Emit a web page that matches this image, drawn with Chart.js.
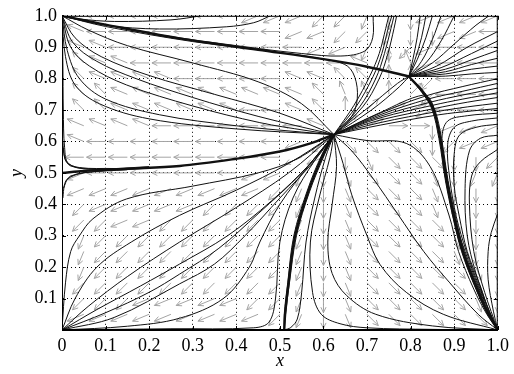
<!DOCTYPE html>
<html>
<head>
<meta charset="utf-8">
<script src="https://cdn.jsdelivr.net/npm/chart.js@4/dist/chart.umd.min.js"></script>
<style>
  html, body { margin: 0; padding: 0; background: #fff; }
  #wrap { width: 514px; height: 374px; }
</style>
</head>
<body>
<div id="wrap"><canvas id="phase" width="514" height="374"></canvas></div>
<script>
const tickValues = [0, 0.1, 0.2, 0.3, 0.4, 0.5, 0.6, 0.7, 0.8, 0.9, 1.0];

// quiver grid, directions (hex: 0 = east, 4 = north, 8 = west, c = south)
const arrowXs = [0.05, 0.1, 0.15, 0.2, 0.25, 0.3, 0.35, 0.4, 0.45, 0.5, 0.55, 0.6, 0.65, 0.7, 0.75, 0.8, 0.85, 0.9, 0.95, 1.0];
const arrowYs = [1.0, 0.95, 0.9, 0.85, 0.8, 0.75, 0.7, 0.65, 0.6, 0.55, 0.5, 0.45, 0.4, 0.35, 0.3, 0.25, 0.2, 0.15, 0.1, 0.05];
const arrowDirs = [
  '88888888999aabcc9999',
  '788888888899aabcc998',
  '7788888888899bca9888',
  '67788888888887459888',
  '6777788888776644a888',
  '6677777777765542a888',
  '66777777887642119888',
  '7777888888872100c999',
  '78888888889aeeeeca99',
  '888888888899cdeeecca',
  '9888888899bcdeeedcbb',
  '999999999abcdeeedccc',
  'a99999aaaabcdeeedccc',
  'aa99aaaaaabcdeeeedcc',
  'baaaaaaaaabcdeeeedcc',
  'baaaaaaaaabcdeeeedcc',
  'baaaaaaaaabcdeeeeedc',
  'aaaaaaaaaabcdeeeeedc',
  'aaa99999aabcdeeeeedc',
  '999999999abcdeeeeeed'
];

// trajectories ending at the corner (0,1)
const toTopLeft = [
  [[0, 1], [0.04, 0.99], [0.12, 0.982], [0.25, 0.987], [0.32, 1]],
  [[0, 1], [0.1, 0.97], [0.224, 0.958], [0.377, 0.965], [0.44, 0.978], [0.478, 1]],
  [[0, 1], [0.2, 0.945], [0.4, 0.905], [0.55, 0.88], [0.64, 0.872], [0.695, 0.888], [0.713, 0.93], [0.714, 1]],
  [[0, 1], [0.1, 0.966], [0.3, 0.918], [0.49, 0.885], [0.6, 0.862], [0.655, 0.84], [0.675, 0.79], [0.676, 0.72], [0.66, 0.67], [0.624, 0.622]],
  [[0, 1], [0.06, 0.955], [0.15, 0.905], [0.3, 0.85], [0.45, 0.79], [0.55, 0.72], [0.624, 0.622]],
  [[0, 1], [0.03, 0.93], [0.09, 0.87], [0.2, 0.81], [0.35, 0.75], [0.5, 0.69], [0.624, 0.622]],
  [[0, 1], [0.025, 0.915], [0.08, 0.855], [0.17, 0.8], [0.3, 0.74], [0.45, 0.68], [0.624, 0.622]],
  [[0, 1], [0.02, 0.9], [0.063, 0.84], [0.148, 0.78], [0.3, 0.713], [0.454, 0.66], [0.56, 0.635], [0.624, 0.622]],
  [[0, 1], [0.012, 0.89], [0.04, 0.8], [0.1, 0.735], [0.224, 0.685], [0.4, 0.65], [0.55, 0.63], [0.624, 0.622]],
  [[0, 1], [0.008, 0.87], [0.03, 0.78], [0.086, 0.72], [0.2, 0.672], [0.4, 0.64], [0.624, 0.622]],
  [[0, 1], [0.002, 0.85], [0.003, 0.7], [0.006, 0.58], [0.015, 0.53], [0.06, 0.512], [0.15, 0.514]]
];

// heavy lines where many trajectories pile up
const thickLines = [
  [[0, 1], [0.1, 0.972], [0.27, 0.928], [0.45, 0.892], [0.6, 0.862], [0.7, 0.838], [0.796, 0.807]],
  [[0, 0.5], [0.05, 0.506], [0.15, 0.513], [0.27, 0.522], [0.4, 0.545], [0.5, 0.568], [0.57, 0.594], [0.624, 0.622]],
  [[0.624, 0.622], [0.6, 0.56], [0.565, 0.44], [0.535, 0.3], [0.52, 0.15], [0.512, 0.05], [0.51, 0]],
  [[0.796, 0.807], [0.829, 0.756], [0.852, 0.703], [0.868, 0.609], [0.883, 0.475], [0.9, 0.36], [0.92, 0.25], [0.95, 0.14], [0.975, 0.06], [1, 0]]
];

// trajectories around the left edge point (0,0.5)
const nearLeftEdge = [
  [[0.002, 0.6], [0.006, 0.55], [0.02, 0.522], [0.08, 0.512], [0.2, 0.52]],
  [[0.002, 0.42], [0.006, 0.46], [0.02, 0.49], [0.08, 0.505], [0.2, 0.515]],
  [[0.003, 0.58], [0.01, 0.535], [0.04, 0.517], [0.12, 0.514]],
  [[0.003, 0.45], [0.012, 0.48], [0.05, 0.5], [0.15, 0.51]]
];

// trajectories ending at the corner (0,0)
const toBottomLeft = [
  [[0, 0], [0.008, 0.15], [0.02, 0.25], [0.04, 0.3], [0.071, 0.354], [0.148, 0.417], [0.3, 0.458], [0.45, 0.5], [0.54, 0.545], [0.624, 0.622]],
  [[0, 0], [0.03, 0.1], [0.08, 0.2], [0.159, 0.28], [0.27, 0.365], [0.4, 0.445], [0.52, 0.53], [0.624, 0.622]],
  [[0, 0], [0.06, 0.075], [0.15, 0.17], [0.27, 0.28], [0.4, 0.39], [0.52, 0.5], [0.624, 0.622]],
  [[0, 0], [0.08, 0.065], [0.18, 0.14], [0.27, 0.21], [0.38, 0.3], [0.48, 0.41], [0.57, 0.53], [0.624, 0.622]],
  [[0, 0], [0.1, 0.055], [0.2, 0.12], [0.27, 0.178], [0.36, 0.26], [0.45, 0.37], [0.55, 0.5], [0.624, 0.622]],
  [[0, 0], [0.12, 0.04], [0.27, 0.147], [0.35, 0.21], [0.42, 0.3], [0.5, 0.42], [0.58, 0.54], [0.624, 0.622]],
  [[0, 0], [0.15, 0.012], [0.27, 0.0375], [0.37, 0.1], [0.43, 0.2], [0.454, 0.28], [0.5, 0.4], [0.57, 0.53], [0.624, 0.622]],
  [[0, 0], [0.25, 0.004], [0.44, 0.007], [0.475, 0.025], [0.49, 0.1], [0.5, 0.28], [0.53, 0.42], [0.58, 0.54], [0.624, 0.622]]
];

// trajectories ending at (0.51,0)
const toBottomMid = [
  [[0.624, 0.622], [0.603, 0.56], [0.568, 0.44], [0.538, 0.3], [0.522, 0.15], [0.513, 0.05], [0.51, 0]],
  [[0.624, 0.622], [0.597, 0.56], [0.562, 0.44], [0.532, 0.3], [0.518, 0.15], [0.51, 0.05], [0.51, 0]],
  [[0.624, 0.622], [0.605, 0.55], [0.58, 0.42], [0.56, 0.28], [0.55, 0.12], [0.54, 0.035], [0.525, 0.008], [0.51, 0]]
];

// trajectories ending at the corner (1,0)
const toBottomRight = [
  [[0.624, 0.622], [0.615, 0.55], [0.59, 0.42], [0.57, 0.28], [0.575, 0.12], [0.595, 0.05], [0.638, 0.02], [0.7, 0.007], [0.85, 0.002], [1, 0]],
  [[0.624, 0.622], [0.63, 0.52], [0.62, 0.4], [0.61, 0.28], [0.62, 0.18], [0.653, 0.11], [0.72, 0.05], [0.85, 0.013], [1, 0]],
  [[0.624, 0.622], [0.645, 0.53], [0.665, 0.43], [0.7, 0.3], [0.73, 0.208], [0.79, 0.12], [0.875, 0.05], [1, 0]],
  [[0.624, 0.622], [0.665, 0.57], [0.715, 0.48], [0.77, 0.37], [0.83, 0.25], [0.89, 0.15], [0.955, 0.05], [1, 0]],
  [[0.624, 0.622], [0.7, 0.603], [0.79, 0.594], [0.845, 0.52], [0.888, 0.366], [0.91, 0.25], [0.945, 0.13], [0.975, 0.05], [1, 0]],
  [[0.796, 0.807], [0.832, 0.756], [0.855, 0.703], [0.871, 0.609], [0.886, 0.475], [0.903, 0.36], [0.923, 0.25], [0.953, 0.14], [0.977, 0.06], [1, 0]],
  [[0.796, 0.807], [0.826, 0.756], [0.849, 0.703], [0.865, 0.609], [0.88, 0.475], [0.897, 0.36], [0.917, 0.25], [0.947, 0.14], [0.973, 0.06], [1, 0]],
  [[1, 0.69], [0.93, 0.682], [0.885, 0.665], [0.872, 0.61], [0.882, 0.5], [0.9, 0.36], [0.925, 0.25], [0.955, 0.14], [0.978, 0.06], [1, 0]],
  [[1, 0.675], [0.94, 0.665], [0.9, 0.645], [0.885, 0.59], [0.89, 0.48], [0.905, 0.36], [0.928, 0.25], [0.957, 0.14], [0.98, 0.06], [1, 0]],
  [[1, 0.655], [0.95, 0.645], [0.912, 0.62], [0.9, 0.56], [0.9, 0.46], [0.912, 0.36], [0.93, 0.25], [0.96, 0.14], [0.98, 0.06], [1, 0]],
  [[1, 0.62], [0.96, 0.61], [0.935, 0.57], [0.925, 0.45], [0.93, 0.3], [0.95, 0.18], [0.975, 0.08], [1, 0]],
  [[1, 0.575], [0.96, 0.535], [0.94, 0.49], [0.935, 0.4], [0.945, 0.25], [0.97, 0.12], [1, 0]],
  [[1, 0.37], [0.985, 0.31], [0.978, 0.25], [0.978, 0.16], [0.99, 0.06], [1, 0]],
  [[0.624, 0.622], [0.73, 0.692], [0.83, 0.748], [0.85, 0.72], [0.866, 0.62], [0.881, 0.475], [0.918, 0.25], [0.97, 0.07], [1, 0]]
];

// trajectories reaching the right edge
const toRight = [
  [[0.624, 0.622], [0.73, 0.69], [0.835, 0.745], [0.92, 0.775], [1, 0.8]],
  [[0.624, 0.622], [0.73, 0.685], [0.84, 0.735], [0.92, 0.76], [1, 0.785]],
  [[0.624, 0.622], [0.73, 0.68], [0.845, 0.725], [0.92, 0.748], [1, 0.77]],
  [[0.624, 0.622], [0.73, 0.675], [0.85, 0.715], [0.92, 0.735], [1, 0.755]],
  [[0.624, 0.622], [0.73, 0.668], [0.855, 0.705], [0.93, 0.725], [1, 0.74]],
  [[0.624, 0.622], [0.73, 0.66], [0.86, 0.695], [0.93, 0.71], [1, 0.722]],
  [[0.624, 0.622], [0.73, 0.652], [0.865, 0.685], [0.94, 0.697], [1, 0.705]],
  [[0.796, 0.807], [0.86, 0.84], [0.93, 0.9], [1, 0.95]],
  [[0.796, 0.807], [0.87, 0.835], [0.94, 0.88], [1, 0.92]],
  [[0.796, 0.807], [0.88, 0.83], [0.94, 0.86], [1, 0.89]],
  [[0.796, 0.807], [0.88, 0.822], [0.94, 0.845], [1, 0.865]],
  [[0.796, 0.807], [0.88, 0.815], [0.94, 0.83], [1, 0.84]],
  [[0.796, 0.807], [0.88, 0.808], [0.94, 0.815], [1, 0.82]]
];

// trajectories reaching the top edge
const toTop = [
  [[0.624, 0.622], [0.67, 0.715], [0.707, 0.81], [0.728, 0.88], [0.743, 0.96], [0.75, 1]],
  [[0.624, 0.622], [0.676, 0.713], [0.714, 0.807], [0.734, 0.88], [0.749, 0.963], [0.757, 1]],
  [[0.624, 0.622], [0.683, 0.71], [0.72, 0.8], [0.74, 0.88], [0.755, 0.96], [0.762, 1]],
  [[0.624, 0.622], [0.69, 0.71], [0.728, 0.8], [0.748, 0.88], [0.762, 0.96], [0.768, 1]],
  [[0.624, 0.622], [0.7, 0.705], [0.77, 0.785], [0.796, 0.807]],
  [[0.624, 0.622], [0.71, 0.7], [0.775, 0.775], [0.796, 0.807]],
  [[0.796, 0.807], [0.805, 0.86], [0.815, 0.93], [0.822, 1]],
  [[0.796, 0.807], [0.81, 0.86], [0.825, 0.93], [0.835, 1]],
  [[0.796, 0.807], [0.815, 0.86], [0.835, 0.93], [0.85, 1]],
  [[0.796, 0.807], [0.825, 0.855], [0.85, 0.925], [0.87, 1]],
  [[0.796, 0.807], [0.835, 0.85], [0.87, 0.92], [0.9, 1]],
  [[0.796, 0.807], [0.85, 0.85], [0.9, 0.91], [0.95, 0.97], [0.98, 1]]
];

const datasets = [];
function addCurves(curves, width) {
  curves.forEach(c => datasets.push({
    data: c.map(([x, y]) => ({ x, y })),
    showLine: true,
    pointRadius: 0,
    borderColor: '#111',
    borderWidth: width,
    tension: 0.35,
    fill: false
  }));
}
addCurves(toTopLeft, 1);
addCurves(nearLeftEdge, 1);
addCurves(toBottomLeft, 1);
addCurves(toBottomMid, 1);
addCurves(toBottomRight, 1);
addCurves(toRight, 1);
addCurves(toTop, 1);
addCurves(thickLines, 2.4);

const quiver = {
  id: 'quiver',
  beforeDatasetsDraw(chart) {
    const { ctx, chartArea: area, scales: { x, y } } = chart;
    ctx.save();
    ctx.beginPath();
    ctx.rect(area.left, area.top, area.width, area.height);
    ctx.clip();
    ctx.strokeStyle = '#a4a4a4';
    ctx.lineWidth = 1;
    arrowDirs.forEach((row, j) => {
      [...row].forEach((ch, i) => {
        const a = parseInt(ch, 16) * Math.PI / 8;
        const c = Math.cos(a), s = Math.sin(a);
        const r = 1 / Math.hypot(c / 19, s / 14);
        const px = x.getPixelForValue(arrowXs[i]);
        const py = y.getPixelForValue(arrowYs[j]);
        const ex = px + r * c, ey = py - r * s;
        ctx.beginPath();
        ctx.moveTo(px, py);
        ctx.lineTo(ex, ey);
        ctx.moveTo(ex - 6 * Math.cos(a - 0.45), ey + 6 * Math.sin(a - 0.45));
        ctx.lineTo(ex, ey);
        ctx.lineTo(ex - 6 * Math.cos(a + 0.45), ey + 6 * Math.sin(a + 0.45));
        ctx.stroke();
      });
    });
    ctx.restore();
  }
};

const frame = {
  id: 'frame',
  afterDraw(chart) {
    const { ctx, chartArea: area, scales: { x, y } } = chart;
    ctx.save();
    ctx.strokeStyle = '#000';
    ctx.lineWidth = 1;
    ctx.strokeRect(area.left + 0.5, area.top + 0.5, area.width - 1, area.height - 1);
    ctx.beginPath();
    tickValues.forEach(v => {
      const px = Math.round(x.getPixelForValue(v)) + 0.5;
      const py = Math.round(y.getPixelForValue(v)) + 0.5;
      ctx.moveTo(px, area.bottom); ctx.lineTo(px, area.bottom - 4);
      ctx.moveTo(px, area.top); ctx.lineTo(px, area.top + 4);
      ctx.moveTo(area.left, py); ctx.lineTo(area.left + 4, py);
      ctx.moveTo(area.right, py); ctx.lineTo(area.right - 4, py);
    });
    ctx.stroke();
    ctx.restore();
  }
};

const tickFont = { family: 'Liberation Serif', size: 18 };
const titleFont = { family: 'Liberation Serif', size: 18, style: 'italic' };

new Chart(document.getElementById('phase'), {
  type: 'scatter',
  data: { datasets },
  options: {
    responsive: false,
    animation: false,
    events: [],
    layout: { padding: { top: 10, right: 16, left: 0, bottom: 0 } },
    plugins: { legend: { display: false }, tooltip: { enabled: false } },
    scales: {
      x: {
        type: 'linear', min: 0, max: 1,
        afterBuildTicks: s => { s.ticks = tickValues.map(value => ({ value })); },
        afterFit: s => { s.height = 44; },
        ticks: { font: tickFont, color: '#000', padding: 5, maxRotation: 0,
          callback: v => v === 0 ? '0' : v.toFixed(1) },
        grid: { color: '#000', lineWidth: 1, drawTicks: false },
        border: { display: true, color: '#000', dash: [1, 3] },
        title: { display: true, text: 'x', font: titleFont, color: '#000', padding: { top: 0, bottom: 2 } }
      },
      y: {
        type: 'linear', min: 0, max: 1,
        afterBuildTicks: s => { s.ticks = tickValues.map(value => ({ value })); },
        afterFit: s => { s.width = 62; },
        ticks: { font: tickFont, color: '#000', padding: 5,
          callback: v => v === 0 ? '' : v.toFixed(1) },
        grid: { color: '#000', lineWidth: 1, drawTicks: false },
        border: { display: true, color: '#000', dash: [1, 3] },
        title: { display: true, text: 'y', font: titleFont, color: '#000', padding: { top: 6, bottom: 0 } }
      }
    }
  },
  plugins: [quiver, frame]
});
</script>
</body>
</html>
